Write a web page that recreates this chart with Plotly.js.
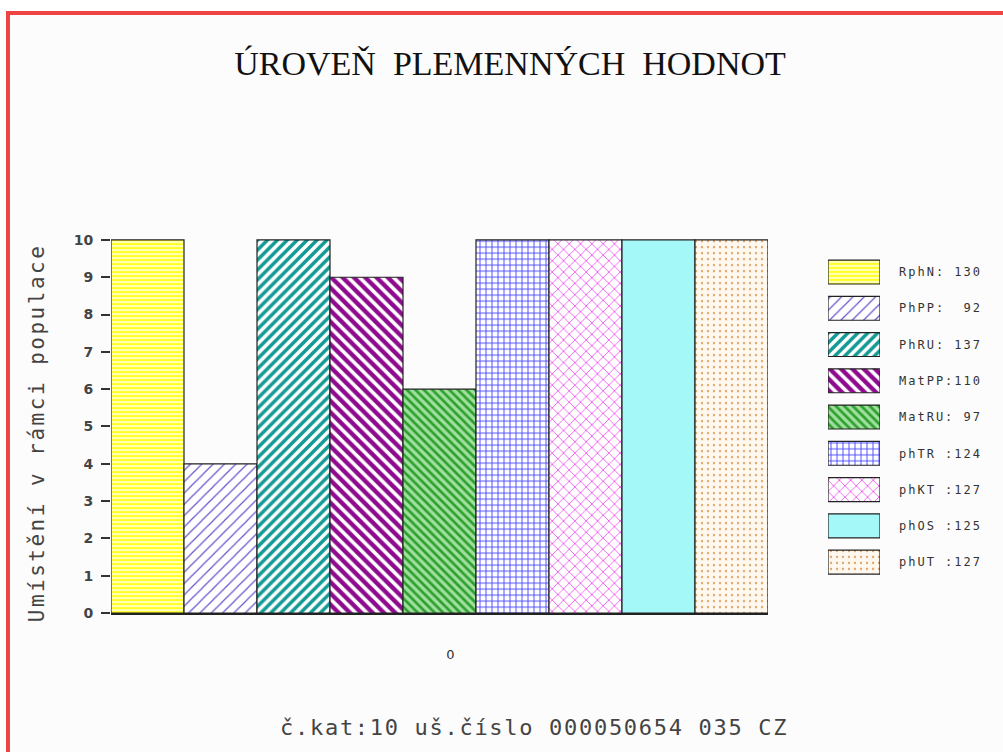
<!DOCTYPE html>
<html><head><meta charset="utf-8">
<script src="https://cdn.plot.ly/plotly-3.0.1.min.js"></script>
<style>
html,body{margin:0;padding:0;background:#fff;}
#chart{width:1003px;height:752px;}
.y2tick text{letter-spacing:2px;}
g.annotation[data-index="0"] text{letter-spacing:2.5px;}
g.annotation[data-index="1"] text{letter-spacing:1.7px;}
</style></head><body><div id="chart"></div>
<script>
// ---- data ----
const traits = ['RphN','PhPP','PhRU','MatPP','MatRU','phTR','phKT','phOS','phUT'];
const ranks = [10,4,10,9,6,10,10,10,10];
const breedingValues = [130,92,137,110,97,124,127,125,127];
const labelSeparators = [': ', ':  ', ': ', ':', ': ', ' :', ' :', ' :', ' :'];
const groupLabel = ['0'];
const yTickValues = [0,1,2,3,4,5,6,7,8,9,10];
const titleText = 'ÚROVEŇ  PLEMENNÝCH  HODNOT';
const yTitleText = 'Umístění v rámci populace';
const footerText = 'č.kat:10 uš.číslo 000050654 035 CZ';

// ---- styles ----
const styles = [
  {shape:'-',  fg:'#ffff22', bg:'#ffffff', size:4, sol:0.65},
  {shape:'/',  fg:'#6655cc', bg:'#ffffff', size:8, sol:0.15},
  {shape:'/',  fg:'#139a95', bg:'#ffffff', size:7, sol:0.5},
  {shape:'\\', fg:'#8e0a8e', bg:'#ffffff', size:8, sol:0.55},
  {shape:'\\', fg:'#2f9f2f', bg:'#9fe09f', size:6, sol:0.45},
  {shape:'+',  fg:'#4f4fff', bg:'#ffffff', size:6, sol:0.3},
  {shape:'x',  fg:'#f060f0', bg:'#ffffff', size:8, sol:0.22},
  {shape:'',   fg:'#a4f8f8', bg:'#a4f8f8', size:6, sol:0.3},
  {shape:'.',  fg:'#e0a870', bg:'#fff8ef', size:6, sol:0.12}
];
const outline = {color:'#222222', width:1.2};

const W = 1003, H = 752;
const px = v => v / W;
const py = v => 1 - v / H;

const patternOf = s => ({shape: s.shape, fgcolor: s.fg, bgcolor: s.bg,
                         size: s.size, solidity: s.sol, fillmode: 'replace'});

const traces = traits.map((t, i) => ({
  type: 'bar',
  x: groupLabel,
  y: [ranks[i]],
  name: t,
  showlegend: false,
  xaxis: 'x', yaxis: 'y',
  marker: {color: styles[i].bg, line: outline, pattern: patternOf(styles[i])}
}));

const legendLabels = traits.map((t, i) => t + labelSeparators[i] + breedingValues[i]);
traits.forEach((t, i) => {
  traces.push({
    type: 'bar',
    orientation: 'h',
    y: [t],
    x: [1],
    width: 0.66,
    offsetgroup: 'legend',
    xaxis: 'x2', yaxis: 'y2',
    showlegend: false,
    marker: {color: styles[i].bg, line: outline, pattern: patternOf(styles[i])}
  });
});

const layout = {
  width: W, height: H,
  margin: {l:0, r:0, t:0, b:0},
  paper_bgcolor: '#ffffff',
  plot_bgcolor: 'rgba(0,0,0,0)',
  barmode: 'group',
  bargap: 0, bargroupgap: 0,
  showlegend: false,
  title: {text: titleText, x: px(510), xanchor: 'center', y: py(63), yanchor: 'middle',
          font: {family: 'Liberation Serif, serif', size: 34, color: '#111'}},
  xaxis: {
    domain: [px(111), px(768)], anchor: 'y', type: 'category',
    range: [-0.5, 0.5],
    showline: true, linecolor: '#222', linewidth: 2,
    ticks: '', showgrid: false, zeroline: false,
    tickfont: {family: 'DejaVu Sans, sans-serif', size: 13, color: '#333'},
    ticklabelstandoff: 28, ticklabelshift: 11
  },
  yaxis: {
    domain: [py(613), py(238.1)], anchor: 'x',
    range: [0, 10.05],
    tickvals: yTickValues,
    ticks: 'outside', ticklen: 9, tickwidth: 2, tickcolor: '#333',
    showline: false, showgrid: false, zeroline: false,
    tickfont: {family: 'DejaVu Sans, sans-serif', size: 14, color: '#444', weight: 'bold'},
    ticklabelstandoff: 5
  },
  xaxis2: {domain: [px(828), px(880)], anchor: 'y2', range: [0, 1], visible: false},
  yaxis2: {
    domain: [py(580.2), py(253.9)], anchor: 'x2', type: 'category',
    categoryarray: traits, autorange: 'reversed',
    side: 'right', tickvals: traits, ticktext: legendLabels,
    ticks: '', showgrid: false, zeroline: false, showline: false,
    tickfont: {family: 'DejaVu Sans Mono, monospace', size: 12, color: '#333'},
    ticklabelstandoff: 18
  },
  shapes: [{
    type: 'rect', xref: 'paper', yref: 'paper', layer: 'below',
    x0: px(8), x1: 1.02, y0: -0.02, y1: py(13),
    line: {color: '#ee4444', width: 4}, fillcolor: '#fcfcfc'
  }],
  annotations: [
    {text: yTitleText, xref: 'paper', yref: 'paper', x: px(37), y: py(433),
     xanchor: 'center', yanchor: 'middle', textangle: -90, showarrow: false,
     font: {family: 'DejaVu Sans Mono, monospace', size: 21, color: '#444'}},
    {text: footerText, xref: 'paper', yref: 'paper', x: px(534), y: py(727),
     xanchor: 'center', yanchor: 'middle', showarrow: false,
     font: {family: 'DejaVu Sans Mono, monospace', size: 22, color: '#444'}}
  ]
};

Plotly.newPlot('chart', traces, layout, {staticPlot: true, displayModeBar: false});
</script></body></html>
